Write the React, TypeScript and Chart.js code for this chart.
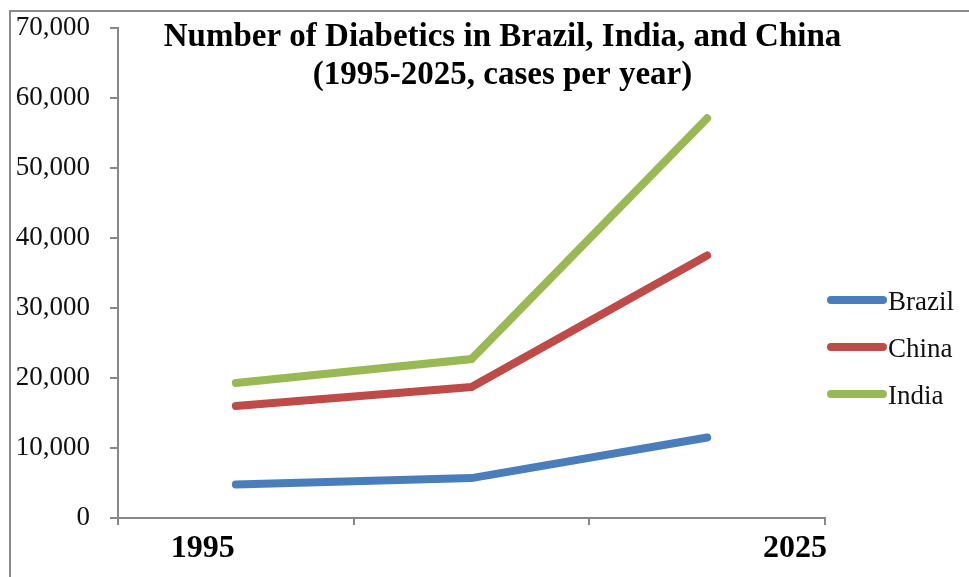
import React, { useEffect, useRef } from "react";
import { Chart, registerables } from "chart.js";

Chart.register(...registerables);

const categories = ["1995", "2010", "2025"];
const xTickLabels = ["1995", "2025"];
const brazil = [4800, 5700, 11500];
const china = [16000, 18700, 37500];
const india = [19300, 22700, 57100];
const seriesNames = ["Brazil", "China", "India"];
const seriesColors = ["#4A7EBB", "#BE4B48", "#98B954"];
const titleLines = ["Number of Diabetics in Brazil, India, and China", "(1995-2025, cases per year)"];

const overlayPlugin = {
  id: "overlay",
  beforeDraw(chart: any) {
    const ctx = chart.ctx;
    ctx.save();
    ctx.fillStyle = "#ffffff";
    ctx.fillRect(0, 0, chart.width, chart.height);
    ctx.strokeStyle = "#8a8a8a";
    ctx.lineWidth = 2;
    ctx.beginPath();
    ctx.moveTo(10, chart.height);
    ctx.lineTo(10, 11);
    ctx.lineTo(chart.width, 11);
    ctx.stroke();
    ctx.restore();
  },
  afterDraw(chart: any) {
    const ctx = chart.ctx;
    const a = chart.chartArea;
    ctx.save();
    // Title
    ctx.fillStyle = "#000000";
    ctx.font = "bold 33px 'Liberation Serif'";
    ctx.textAlign = "center";
    ctx.textBaseline = "alphabetic";
    const cx = chart.width / 2 + 18;
    titleLines.forEach((line, i) => {
      ctx.fillText(line, cx, 46 + i * 38);
    });
    // X labels
    ctx.font = "bold 32px 'Liberation Serif'";
    ctx.textAlign = "center";
    ctx.fillText(xTickLabels[0], a.left + (a.right - a.left) * 0.12, a.bottom + 39);
    ctx.textAlign = "right";
    ctx.fillText(xTickLabels[1], a.right + 2, a.bottom + 39);
    // Legend
    ctx.font = "27px 'Liberation Serif'";
    ctx.textAlign = "left";
    ctx.textBaseline = "alphabetic";
    seriesNames.forEach((name, i) => {
      const y = 300 + i * 47;
      ctx.strokeStyle = seriesColors[i];
      ctx.lineWidth = 8;
      ctx.lineCap = "round";
      ctx.beginPath();
      ctx.moveTo(a.right + 6, y);
      ctx.lineTo(a.right + 58, y);
      ctx.stroke();
      ctx.fillStyle = "#111111";
      ctx.fillText(name, a.right + 63, y + 10);
    });
    ctx.restore();
  },
};

export default function App() {
  const ref = useRef<HTMLCanvasElement | null>(null);
  useEffect(() => {
    if (!ref.current) return;
    const data = [brazil, china, india];
    const chart = new Chart(ref.current, {
      type: "line",
      data: {
        labels: categories,
        datasets: seriesNames.map((name, i) => ({
          label: name,
          data: data[i],
          borderColor: seriesColors[i],
          backgroundColor: seriesColors[i],
          borderWidth: 8,
          borderCapStyle: "round",
          borderJoinStyle: "miter",
          pointRadius: 0,
          tension: 0,
          fill: false,
        })),
      },
      options: {
        responsive: false,
        animation: false,
        layout: { padding: { left: 0, right: 144, top: 28, bottom: 0 } },
        plugins: {
          legend: { display: false },
          title: { display: false },
          tooltip: { enabled: false },
        },
        scales: {
          x: {
            type: "category",
            offset: true,
            afterFit: (s: any) => {
              s.height = 59;
              s.paddingLeft = 0;
              s.paddingRight = 0;
            },
            grid: {
              offset: true,
              drawOnChartArea: false,
              drawTicks: true,
              tickLength: 7,
              color: "#888888",
              lineWidth: 2,
            },
            border: { color: "#888888", width: 2 },
            ticks: { display: false },
          },
          y: {
            min: 0,
            max: 70000,
            afterFit: (s: any) => {
              s.width = 118;
              s.paddingTop = 0;
              s.paddingBottom = 0;
            },
            grid: {
              drawOnChartArea: false,
              drawTicks: true,
              tickLength: 8,
              color: "#888888",
              lineWidth: 2,
            },
            border: { color: "#888888", width: 2 },
            ticks: {
              stepSize: 10000,
              padding: 20,
              color: "#111111",
              font: { family: "'Liberation Serif'", size: 27 },
              callback: (v: any) => Number(v).toLocaleString("en-US"),
            },
          },
        },
      },
      plugins: [overlayPlugin],
    } as any);
    return () => chart.destroy();
  }, []);
  return (
    <div style={{ position: "absolute", left: 0, top: 0, width: 969, height: 577 }}>
      <canvas ref={ref} width={969} height={577} style={{ width: 969, height: 577, display: "block" }} />
    </div>
  );
}
